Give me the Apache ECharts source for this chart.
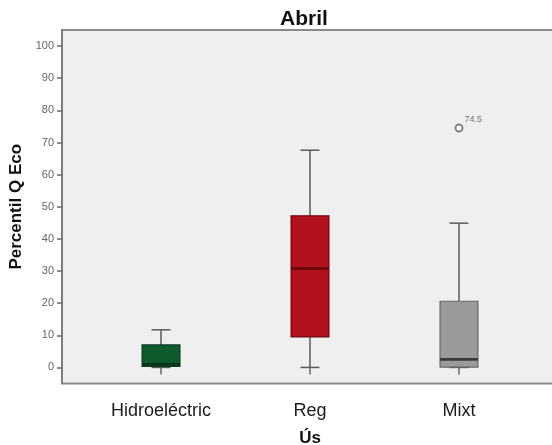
<!DOCTYPE html>
<html>
<head>
<meta charset="utf-8">
<script src="https://cdn.jsdelivr.net/npm/echarts@6/dist/echarts.min.js"></script>
<style>
  html, body { margin: 0; padding: 0; background: #ffffff; }
  #chart { width: 552px; height: 445px; }
</style>
</head>
<body>
<div id="chart"></div>
<script>
// Percentil Q Eco per ús (abril): estadístics de les caixes
const categories   = ['Hidroeléctric', 'Reg', 'Mixt'];
const whiskerLow   = [0, 0, 0];
const q1           = [0.3, 9.5, 0.1];
const median       = [1.0, 30.8, 2.5];
const q3           = [7.0, 47.2, 20.6];
const whiskerHigh  = [11.7, 67.6, 44.9];
const outlierCat   = [2];
const outlierValue = [74.5];
const yTicks       = [0, 10, 20, 30, 40, 50, 60, 70, 80, 90, 100];

const boxFill   = ['#0f5a2c', '#b0111b', '#9a9a9a'];
const boxStroke = ['#0a3a1c', '#6e0a0f', '#666666'];
const medColor  = ['#05301a', '#650408', '#3a3a3a'];

const boxData = categories.map((c, i) =>
  [i, whiskerLow[i], q1[i], median[i], q3[i], whiskerHigh[i]]);
const outlierData = outlierCat.map((c, i) => [c, outlierValue[i]]);

const chart = echarts.init(document.getElementById('chart'), null, { renderer: 'canvas' });

const Y_MIN = -5, Y_MAX = 105;
const TOP = 30, BOTTOM = 61.5;
const FONT = '"Liberation Sans", Arial, sans-serif';

function renderBox(params, api) {
  const i = api.value(0);
  const x = api.coord([i, 0])[0];
  const band = api.size([1, 0])[0];
  const half = band * 0.127;
  const cap = half / 2;
  const yLo = api.coord([i, api.value(1)])[1];
  const yQ1 = api.coord([i, api.value(2)])[1];
  const yMed = api.coord([i, api.value(3)])[1];
  const yQ3 = api.coord([i, api.value(4)])[1];
  const yHi = api.coord([i, api.value(5)])[1];
  const wStyle = { stroke: '#5a5a5a', lineWidth: 1.5 };
  return {
    type: 'group',
    children: [
      { type: 'line', shape: { x1: x, y1: yHi, x2: x, y2: yQ3 }, style: wStyle },
      { type: 'line', shape: { x1: x, y1: yQ1, x2: x, y2: yLo }, style: wStyle },
      { type: 'line', shape: { x1: x - cap, y1: yHi, x2: x + cap, y2: yHi }, style: wStyle },
      { type: 'line', shape: { x1: x - cap, y1: yLo, x2: x + cap, y2: yLo }, style: wStyle },
      { type: 'rect', shape: { x: x - half, y: yQ3, width: half * 2, height: yQ1 - yQ3 },
        style: { fill: boxFill[i], stroke: boxStroke[i], lineWidth: 1.2 } },
      { type: 'line', shape: { x1: x - half, y1: yMed, x2: x + half, y2: yMed },
        style: { stroke: medColor[i], lineWidth: 2.6 } }
    ]
  };
}

chart.setOption({
  animation: false,
  backgroundColor: '#ffffff',
  grid: [
    { left: 62, top: TOP, right: -30, bottom: BOTTOM, show: true, outerBoundsMode: 'none',
      containLabel: false,
      backgroundColor: '#efefef', borderColor: '#8a8a8a', borderWidth: 2 },
    { left: 86.5, top: TOP, width: 447, bottom: BOTTOM, outerBoundsMode: 'none',
      containLabel: false }
  ],
  graphic: [
    { type: 'text', x: 304, y: 19, z: 100,
      style: { text: 'Abril', fill: '#111', font: 'bold 21px ' + FONT,
               textAlign: 'center', textVerticalAlign: 'middle' } }
  ],
  xAxis: [
    { gridIndex: 0, type: 'value', min: 0, max: 1, show: false },
    { gridIndex: 1, type: 'category', data: categories, boundaryGap: true,
      axisLine: { show: false },
      axisTick: { show: true, alignWithLabel: true, length: 7,
                  lineStyle: { color: '#6a6a6a', width: 1.5 } },
      axisLabel: { margin: 19, color: '#1a1a1a', fontSize: 18, fontFamily: FONT },
      name: 'Ús', nameLocation: 'middle', nameGap: 46,
      nameTextStyle: { color: '#111', fontSize: 17, fontWeight: 'bold', fontFamily: FONT } }
  ],
  yAxis: [
    { gridIndex: 0, type: 'value', min: Y_MIN, max: Y_MAX,
      axisLine: { show: true, lineStyle: { color: '#7a7a7a', width: 1.5 } },
      axisTick: { show: true, length: 5, customValues: yTicks,
                  lineStyle: { color: '#6a6a6a', width: 1.5 } },
      axisLabel: { customValues: yTicks, color: '#666', fontSize: 11, margin: 8, fontFamily: FONT },
      splitLine: { show: false },
      name: 'Percentil Q Eco', nameLocation: 'middle', nameRotate: 90, nameGap: 35,
      nameTextStyle: { color: '#111', fontSize: 17, fontWeight: 'bold', fontFamily: FONT } },
    { gridIndex: 1, type: 'value', min: Y_MIN, max: Y_MAX, show: false }
  ],
  series: [
    { type: 'custom', xAxisIndex: 1, yAxisIndex: 1, data: boxData,
      renderItem: renderBox, encode: { x: 0, y: [1, 2, 3, 4, 5] }, clip: false },
    { type: 'scatter', xAxisIndex: 1, yAxisIndex: 1, data: outlierData,
      symbol: 'emptyCircle', symbolSize: 7,
      itemStyle: { color: '#666', borderColor: '#666', borderWidth: 1.2 },
      label: { show: true, position: 'right', distance: 1, offset: [0, -9],
               formatter: p => String(p.value[1]),
               color: '#555', fontSize: 9, fontFamily: FONT } }
  ]
});
</script>
</body>
</html>
